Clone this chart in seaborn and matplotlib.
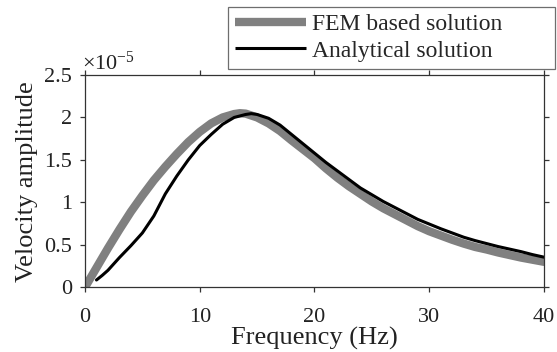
import numpy as np
import pandas as pd
import matplotlib
matplotlib.use("Agg")
import matplotlib.pyplot as plt
from matplotlib.ticker import FuncFormatter
import seaborn as sns

# FEM based solution (amplitude in units of 1e-5)
fem_freq = [0, 1, 2, 3, 4, 5, 6, 7, 8, 9, 10, 11, 12, 13, 13.5, 14, 15, 16, 17, 18, 19, 20,
            21, 22, 23, 24, 25, 26, 27, 28, 29, 30, 31, 32, 33, 34, 35, 36, 37, 38, 39, 40]
fem_amp = [0.0, 0.23, 0.46, 0.68, 0.89, 1.08, 1.26, 1.42, 1.57, 1.71, 1.83, 1.93, 2.00,
           2.04, 2.05, 2.045, 2.0, 1.93, 1.84, 1.73, 1.625, 1.52, 1.40, 1.29, 1.19,
           1.10, 1.01, 0.93, 0.86, 0.79, 0.72, 0.66, 0.61, 0.56, 0.515, 0.475, 0.445,
           0.41, 0.38, 0.35, 0.325, 0.30]

# Analytical solution
ana_freq = [1, 1.5, 2, 3, 4, 5, 6, 7, 8, 9, 10, 11, 12, 13, 14, 14.5, 15, 16, 17, 18, 19, 20,
            21, 22, 23, 24, 25, 26, 27, 28, 29, 30, 31, 32, 33, 34, 35, 36, 37, 38, 39, 40]
ana_amp = [0.086, 0.14, 0.20, 0.35, 0.49, 0.64, 0.84, 1.10, 1.31, 1.50, 1.67, 1.80, 1.92,
           2.0, 2.035, 2.045, 2.035, 1.99, 1.91, 1.80, 1.69, 1.58, 1.47, 1.37, 1.27,
           1.17, 1.09, 1.01, 0.94, 0.87, 0.80, 0.745, 0.69, 0.64, 0.59, 0.55, 0.515,
           0.48, 0.45, 0.42, 0.385, 0.355]

fem = pd.DataFrame({"freq": fem_freq, "amp": np.array(fem_amp) * 1e-5})
ana = pd.DataFrame({"freq": ana_freq, "amp": np.array(ana_amp) * 1e-5})

sns.set_style("ticks")
plt.rcParams["font.family"] = ["Liberation Serif", "DejaVu Serif"]
plt.rcParams["mathtext.fontset"] = "custom"
plt.rcParams["mathtext.rm"] = "Liberation Serif"
plt.rcParams["mathtext.it"] = "Liberation Serif:italic"

fig = plt.figure(figsize=(5.57, 3.52), dpi=100)
ax = fig.add_axes([0.1526, 0.1838, 0.824, 0.6032])

sns.lineplot(data=fem, x="freq", y="amp", ax=ax, color="#808080", linewidth=6,
             label="FEM based solution", legend=False)
sns.lineplot(data=ana, x="freq", y="amp", ax=ax, color="black", linewidth=2.2,
             label="Analytical solution", legend=False)

ax.set_xlim(0, 40)
ax.set_ylim(0, 2.5e-5)
ax.set_xticks([0, 10, 20, 30, 40])
ax.set_yticks(np.arange(0, 2.51e-5, 0.5e-5))
ax.yaxis.set_major_formatter(FuncFormatter(lambda v, p: "%g" % round(v * 1e5, 2)))

axis_col = "#333333"
txt_col = "#222222"
for s in ax.spines.values():
    s.set_visible(True)
    s.set_color(axis_col)
    s.set_linewidth(0.9)
ax.tick_params(direction="out", top=True, right=True, length=3.6, width=0.9,
               colors=axis_col, labelsize=16, labelcolor=txt_col)
ax.tick_params(axis="x", pad=11)
ax.tick_params(axis="y", pad=5.5)

ax.set_xlabel("Frequency (Hz)", fontsize=19, color=txt_col, labelpad=0)
ax.set_ylabel("Velocity amplitude", fontsize=19, color=txt_col, labelpad=5)
ax.text(-0.007, 1.024, r"$\times10^{-5}$", transform=ax.transAxes, fontsize=16,
        color=txt_col, ha="left", va="baseline")

# wide legend box above the axes, like the MATLAB original
handles, labels = ax.get_legend_handles_labels()
leg = fig.legend(handles, labels, loc="upper left", mode="expand",
                 bbox_to_anchor=(0.4093, 0.804, 0.587, 0.177),
                 fontsize=17, frameon=True, fancybox=False, handlelength=3.0,
                 handletextpad=0.25, borderpad=0.3, labelspacing=0.2,
                 borderaxespad=0.0)
leg.get_frame().set_edgecolor("#4a4a4a")
leg.get_frame().set_linewidth(0.9)
for h in leg.get_lines():
    h.set_solid_capstyle("butt")

fig.savefig("out.png", dpi=100)
